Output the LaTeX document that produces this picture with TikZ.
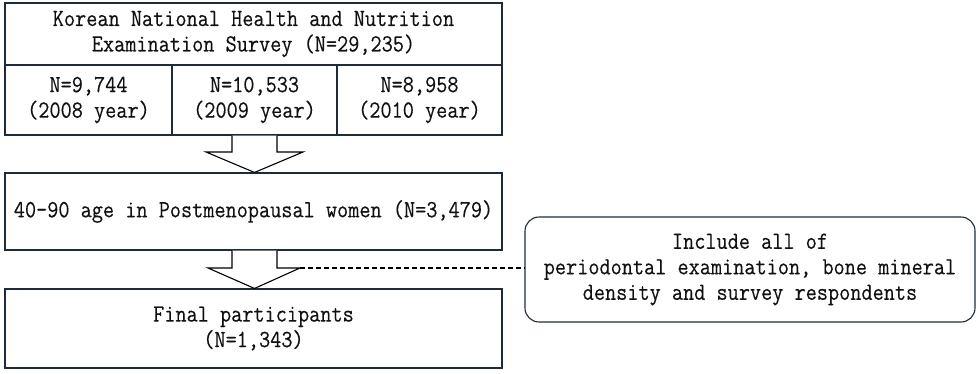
\documentclass[tikz,border=0pt]{standalone}
\usepackage{fontspec}
\setmonofont{Latin Modern Mono}[FakeStretch=0.88, FakeBold=0.3]
\definecolor{lineC}{HTML}{1E2B38}
\definecolor{txtC}{HTML}{111111}
\begin{document}
\begin{tikzpicture}[x=1pt,y=-1pt,
  every node/.style={font=\ttfamily\fontsize{24.6}{25.5}\selectfont, text=txtC, align=center, inner sep=0pt},
  box/.style={draw=lineC, line width=1.1pt, rectangle},
  rbox/.style={draw=lineC, line width=1.1pt, rectangle, rounded corners=14pt},
  blockarrow/.style={draw=black, line width=1.1pt, fill=white, line join=miter},
  dashline/.style={draw=black, line width=1.1pt, dash pattern=on 5pt off 3pt}]
\useasboundingbox (0,0) rectangle (978,373);
% top box
\node[box, minimum width=497pt, minimum height=62pt] (title) at (253.5,34) {Korean National Health and Nutrition\\Examination Survey (N=29,235)};
\node[box, minimum width=167pt, minimum height=70pt] (y08) at (88.5,100) {N=9,744\\(2008 year)};
\node[box, minimum width=165pt, minimum height=70pt] (y09) at (254.5,100) {N=10,533\\(2009 year)};
\node[box, minimum width=165pt, minimum height=70pt] (y10) at (419.5,100) {N=8,958\\(2010 year)};
% second box
\node[box, minimum width=497pt, minimum height=77pt] (age) at (253.5,211.5) {40-90 age in Postmenopausal women (N=3,479)};
% final box
\node[box, minimum width=497pt, minimum height=79pt] (final) at (253.5,328.5) {Final participants\\(N=1,343)};
% inclusion box
\node[rbox, minimum width=450pt, minimum height=105pt] (inc) at (750,269.5) {Include all of\\periodontal examination, bone mineral\\density and survey respondents};
% block arrow 1
\draw[blockarrow] (232,0 |- y09.south) -- (232,152) -- (206,152) -- (254.5,0 |- age.north) -- (303,152) -- (277,152) -- (277,0 |- y09.south);
% block arrow 2
\coordinate (wing) at (300,268);
\draw[blockarrow] (232,0 |- age.south) -- (232,268) -- (208,268) -- (254.5,0 |- final.north) -- (wing) -- (277,268) -- (277,0 |- age.south);
% dashed connector
\draw[dashline] (wing) -- (wing -| inc.west);
\end{tikzpicture}
\end{document}
